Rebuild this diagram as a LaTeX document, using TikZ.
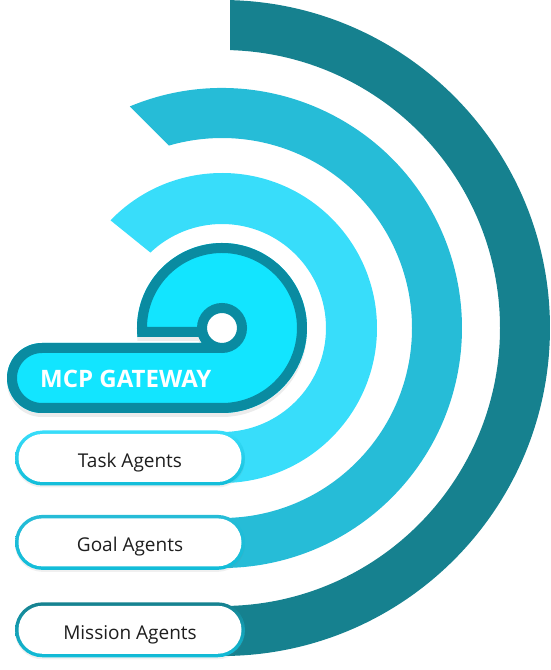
\documentclass[tikz,border=0pt]{standalone}
\usepackage{fontspec}
\setmainfont{Open Sans}
\usepackage{tikz}
\usetikzlibrary{calc}
\usetikzlibrary{positioning}
\usetikzlibrary{shadows}
\definecolor{missionteal}{HTML}{16818F}
\definecolor{goalcyan}{HTML}{26BCD7}
\definecolor{taskcyan}{HTML}{38DDFA}
\definecolor{gwfill}{HTML}{12E5FF}
\definecolor{gwborder}{HTML}{0A8BA1}
\definecolor{pillbottom}{HTML}{12BDD9}
\definecolor{agenttext}{HTML}{1E1E1E}
\tikzset{
	agentpill/.style={
		rectangle, 
		rounded corners=27.5pt,
		minimum width=230pt, 
		minimum height=55pt, 
		text centered, 
		text height=19pt,
		text depth=0pt,
		text=agenttext,
		font=\fontsize{19}{22}\selectfont,
		drop shadow={opacity=0.12, shadow xshift=0pt, shadow yshift=-2pt},
		path picture={
			\shade[top color=#1, bottom color=pillbottom] (path picture bounding box.south west) rectangle (path picture bounding box.north east);
			\fill[white, rounded corners=24pt] ($(path picture bounding box.south west)+(3.5pt,3.5pt)$) rectangle ($(path picture bounding box.north east)-(3.5pt,3.5pt)$);
		}},
	gwlabel/.style={
		inner sep=0pt, 
		text=white,
		font=\fontsize{24}{28}\selectfont\bfseries},
}
\newcommand{\gatewayoutline}{($(hub)+(186:85pt)$) arc[start angle=186, end angle=-90, radius=85pt] -- (42,257) arc[start angle=270, end angle=90, radius=35pt] -- ($(hub)+(216.87:25pt)$) arc[start angle=216.87, end angle=201.1, radius=25pt] -- cycle}
\begin{document}
\begin{tikzpicture}
	[x=1pt, y=1pt]
	\useasboundingbox (0,0) rectangle (550,670);
	\coordinate (hub) at (222,342);
	% rings
	\fill[missionteal] ($(hub)+(88.6:328pt)$) arc[start angle=88.6, end angle=-90, radius=328pt] -- ($(hub)+(-90:278pt)$) arc[start angle=-90, end angle=88.35, radius=278pt] -- cycle;
	\fill[goalcyan] ($(hub)+(112.6:240pt)$) arc[start angle=112.6, end angle=-90, radius=240pt] -- ($(hub)+(-90:190pt)$) arc[start angle=-90, end angle=106.2, radius=190pt] -- cycle;
	\fill[taskcyan] ($(hub)+(136:155pt)$) arc[start angle=136, end angle=-90, radius=155pt] -- ($(hub)+(-90:104pt)$) arc[start angle=-90, end angle=133.5, radius=104pt] -- cycle;
	% gateway
	\fill[gwfill, drop shadow={opacity=0.15, shadow xshift=0pt, shadow yshift=-4pt}] \gatewayoutline;
	\begin{scope}
		\clip \gatewayoutline;
		\draw[gwborder, line width=20pt] \gatewayoutline;
	\end{scope}
	\filldraw[fill=white, draw=gwborder, line width=10pt] (hub) circle[radius=20pt];
	\node[gwlabel, anchor=west] (gateway) at (40,291) {MCP GATEWAY};
	% agents
	\node[agentpill=taskcyan] (task) at (130,212) {Task Agents};
	\node[agentpill=goalcyan, below=29pt of task] (goal) {Goal Agents};
	\node[agentpill=missionteal, below=32pt of goal] (mission) {Mission Agents};
\end{tikzpicture}
\end{document}
